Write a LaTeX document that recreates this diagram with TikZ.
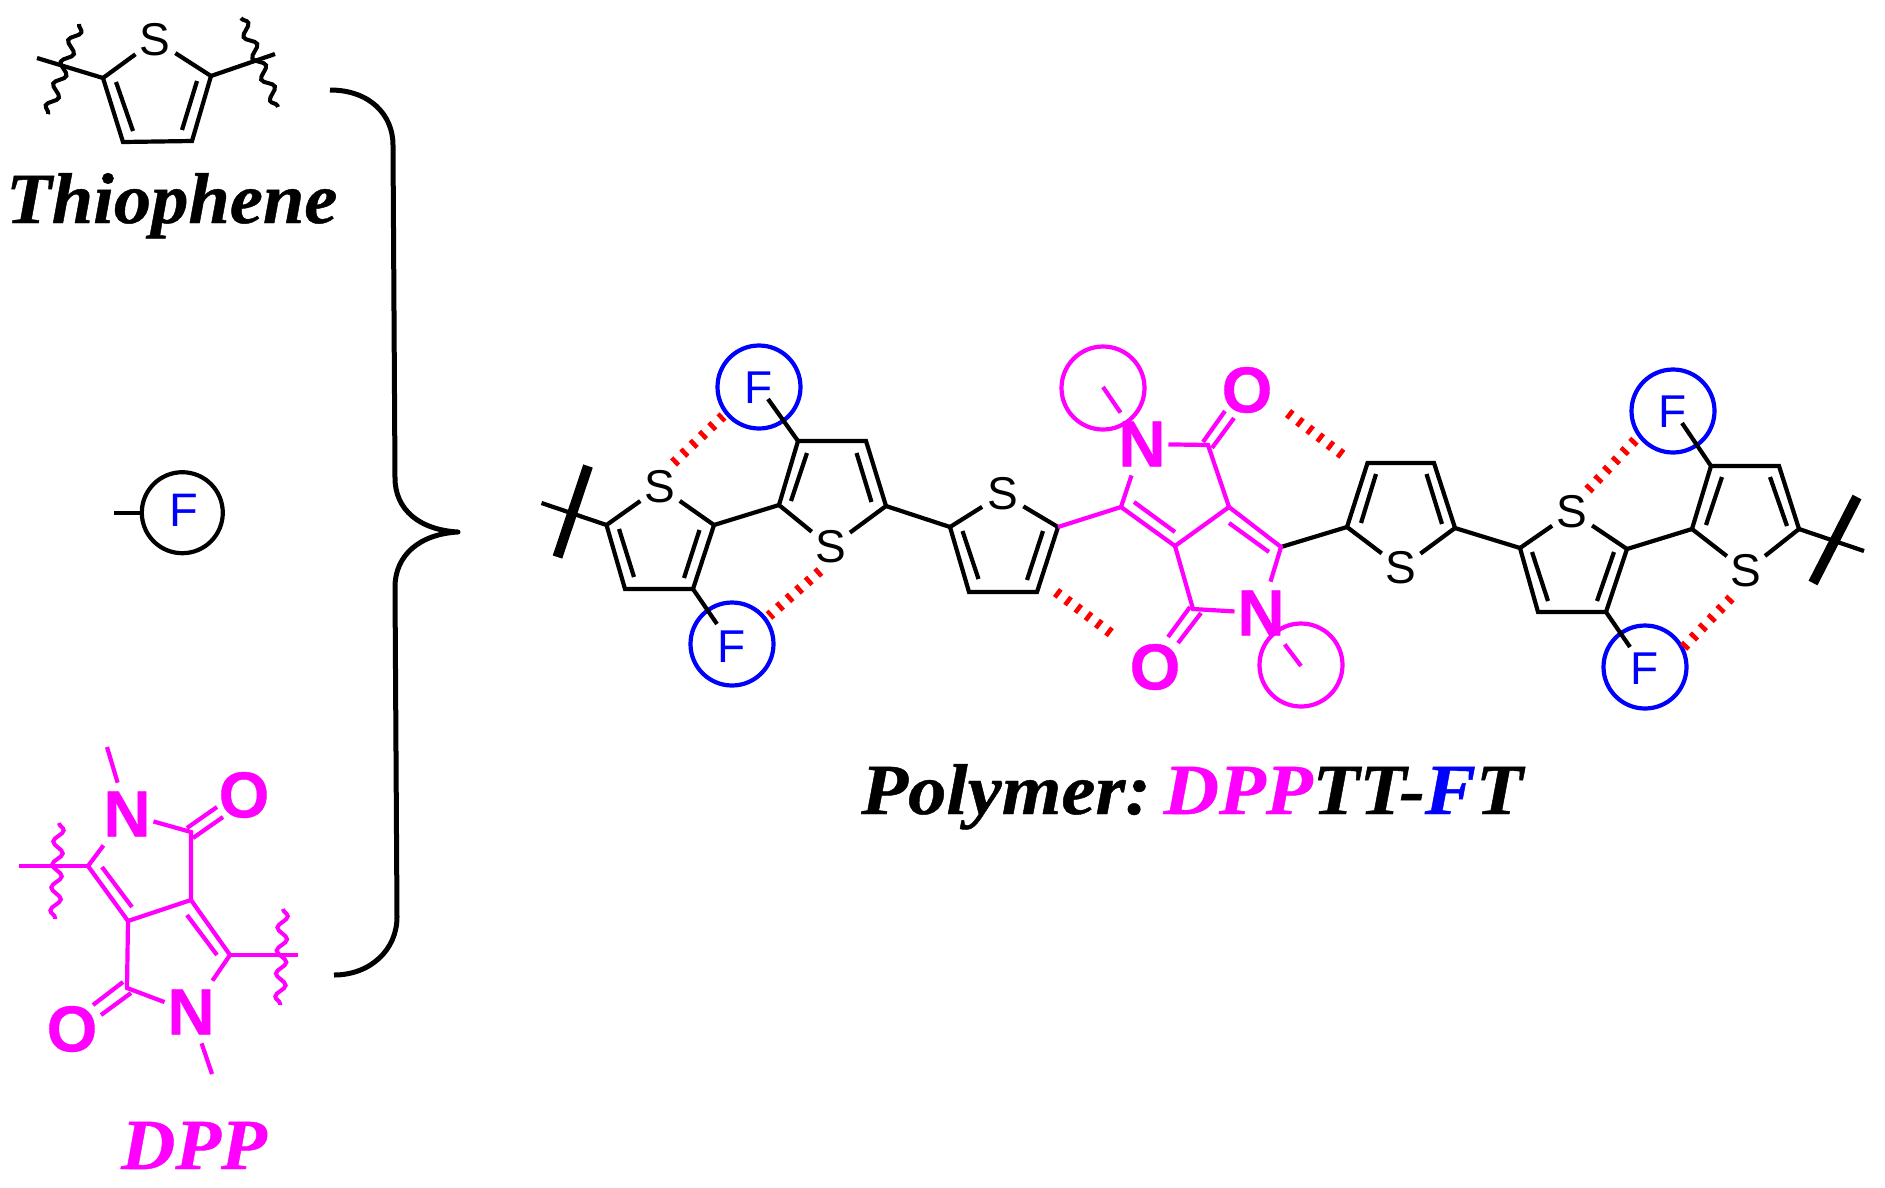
\documentclass[tikz,border=0pt]{standalone}
\usepackage{fontspec}
\setmainfont[BoldFeatures={FakeBold=0.6}]{Liberation Sans}
\newfontfamily\labelfont[BoldItalicFont={Liberation Serif Bold Italic},BoldItalicFeatures={FakeBold=0.6}]{Liberation Serif}
\usetikzlibrary{decorations.pathmorphing}
\definecolor{mag}{RGB}{255,0,255}
\definecolor{blu}{RGB}{0,0,255}
\definecolor{rd}{RGB}{255,0,0}
\tikzset{
  bondline/.style={line width=4.2pt,line cap=butt,line join=miter},
  dpp/.style={bondline,color=mag},
  wavy/.style={line width=4pt,decorate,decoration={snake,segment length=23pt,amplitude=5pt,pre length=0pt,post length=0pt}},
  hashbond/.style={color=rd,line width=10pt,dash pattern=on 4.5pt off 8.3pt},
  hetero/.style={circle,inner sep=0pt,minimum size=48pt,font=\fontsize{46}{46}\selectfont},
  ntom/.style={rectangle,inner sep=0pt,outer xsep=3pt,outer ysep=9pt,text=mag,font=\fontsize{65}{65}\selectfont\bfseries},
  otom/.style={inner sep=0pt,text=mag,font=\fontsize{65}{65}\selectfont\bfseries},
  ring/.style={circle,draw,line width=4.2pt,inner sep=0pt,minimum size=83pt},
  flabel/.style={inner sep=0pt,text=blu,font=\fontsize{46}{46}\selectfont},
  title/.style={inner sep=0pt,anchor=base west,font=\fontsize{72}{72}\selectfont\labelfont\bfseries\itshape},
  bracepath/.style={line width=5pt,line join=round}
}
\begin{document}
\begin{tikzpicture}[x=1pt,y=-1pt]
\useasboundingbox (0,0) rectangle (1885,1187);
\foreach \n/\x/\y in {
 tA/103/78,tB/211/76,tC/123/142,tD/192/141,tEa/116/82,tEb/133/131,tFa/197/81,tFb/182/130,
 tL/37/58,tR/275/54,tWa/79/24,tWb/48/114,tWc/241/18,tWd/278/107,
 bA/330/90,bB/393/145,bC/395/478,bD/458/532,bE/395/587,bF/397/917,bG/334/975,
 lF/114/513,lG/141.7/513,
 da/107/747,db/88/866,dc/191/832,dd/191/900,de/128/921,df/230/955,dg/127/988,
 dh/102/867,di/132/907,dj/187/915,dk/217/955,
 dl/187/828,dm/217/807,dn/193/838,dp/223/817,
 dq/93/1005,dr/123/982,ds/101/1015,dt/131/993,
 du/212/1074,dv/19/866,dw/298/955,dx/59/823,dy/55/919,dz/283/909,dzz/280/1005,
 a1/606.5/525,a2/714/525,a3/625/589,a4/693/589,a5/619/529,a6/634/577,a7/699.5/530,a8/684/578,
 aT/541.5/503,aBa/588/466,aBb/557.5/557,aF/717/624,
 b1/779/505,b2/886/506,b3/798/441,b4/866/441,b5/807/453,b6/791/501,b7/856.5/453,b8/871.5/502,bF2/768/399,
 c1/950/527,c2/1058/527,c3/969/592,c4/1037/592,c5/962.5/531,c6/978.5/579,c7/1043/531,c8/1027/580,
 m1/1121/507,m2/1229/507,m3/1281/547,m4/1175/546,m5/1208/445,m6/1193/609,
 m7/1134/502,m8/1175/532,m9/1229/523,m10/1269/552,
 m11/1203/442,m12/1225/411,m13/1212/448,m14/1234/418,
 m15/1190/607,m16/1168/637,m17/1201/613,m18/1178/643,
 mA/1103/387,mB/1301/666,
 d1/1347/527,d2/1455/528,d3/1367.5/463,d4/1434/463,d5/1376/474,d6/1361/523,d7/1426.5/474,d8/1442/524,
 e1/1520/548,e2/1627/549,e3/1538/612,e4/1606/612,e5/1532/552,e6/1548/601,e7/1614/552,e8/1597/601,
 f1/1692/529,f2/1799/529,f3/1711/466,f4/1779/466,f5/1722/477,f6/1706/525,f7/1770/477,f8/1787/526,
 fT/1864/551,fBa/1857/497,fBb/1813/583,fU/1682/423,fV/1630/647,
 r1a/673.5/463,r1b/723/416,r2a/820/571,r2b/769/616,r3a/1056/592,r3b/1112/634,
 r4a/1288/413,r4b/1344/456,r5a/1588/490,r5b/1637/438,r6a/1731/598,r6b/1681/650}
 {\coordinate (\n) at (\x,\y);}

% ---- thiophene
\node[hetero] (tS) at (155,40) {S};
\draw[bondline] (tS) -- (tA) -- (tC) -- (tD) -- (tB) -- (tS);
\draw[bondline] (tEa) -- (tEb) (tFa) -- (tFb) (tA) -- (tL) (tB) -- (tR);
\draw[wavy] (tWa) -- (tWb);
\draw[wavy] (tWc) -- (tWd);
\node[title,xscale=1.035] (tTitle) at (6,223) {Thiophene};

% ---- brace
\draw[bracepath] (bA) .. controls (370,90) and (393,115) .. (bB) -- (bC)
  .. controls (395,510) and (420,530) .. (bD)
  .. controls (420,534) and (395,555) .. (bE) -- (bF)
  .. controls (397,950) and (370,975) .. (bG);

% ---- free F
\node[ring,minimum size=81pt] (lR) at (182.3,512.7) {};
\node[flabel,font=\fontsize{47}{47}\selectfont] (lL) at (184,510) {F};
\draw[bondline] (lF) -- (lG);

% ---- DPP monomer
\node[ntom] (dN1) at (127,814) {N};
\node[ntom] (dN2) at (191,1012) {N};
\node[otom] (dO1) at (244,795) {O};
\node[otom] (dO2) at (72,1029) {O};
\draw[dpp] (da) -- (dN1) (dN1) -- (db) -- (de) -- (dd) -- (df) -- (dN2);
\draw[dpp] (dN1) -- (dc) -- (dd) (de) -- (dg) -- (dN2) -- (du);
\draw[dpp] (dh) -- (di) (dj) -- (dk) (dl) -- (dm) (dn) -- (dp) (dq) -- (dr) (ds) -- (dt);
\draw[dpp] (db) -- (dv) (df) -- (dw);
\draw[wavy,mag] (dx) -- (dy);
\draw[wavy,mag] (dz) -- (dzz);
\node[title,text=mag,xscale=1.04] (dTitle) at (121,1169) {DPP};

% ---- polymer: circles
\node[ring,blu] (cF1) at (759,387) {};
\node[ring,blu] (cF2) at (732,644) {};
\node[ring,mag] (cM1) at (1103,388) {};
\node[ring,mag] (cM2) at (1301,665) {};
\node[ring,blu] (cF3) at (1673,411) {};
\node[ring,blu] (cF4) at (1645,667) {};
\node[flabel] (F1) at (759,388) {F};
\node[flabel] (F2) at (732,647) {F};
\node[flabel] (F3) at (1673,412) {F};
\node[flabel] (F4) at (1645,669) {F};

% ---- polymer: rings
\node[hetero] (sA) at (660,487) {S};
\node[hetero] (sB) at (830.5,547) {S};
\node[hetero] (sC) at (1002.6,494) {S};
\node[hetero] (sD) at (1401,568) {S};
\node[hetero] (sE) at (1572,512) {S};
\node[hetero] (sF) at (1746,571) {S};

\draw[bondline] (aT) -- (a1) (sA) -- (a1) -- (a3) -- (a4) -- (a2) -- (sA);
\draw[bondline] (a5) -- (a6) (a7) -- (a8) (a2) -- (b1) (a4) -- (aF);
\draw[bondline,line width=10pt] (aBa) -- (aBb);
\draw[bondline] (sB) -- (b1) -- (b3) -- (b4) -- (b2) -- (sB);
\draw[bondline] (b5) -- (b6) (b7) -- (b8) (b3) -- (bF2) (b2) -- (c1);
\draw[bondline] (sC) -- (c1) -- (c3) -- (c4) -- (c2) -- (sC);
\draw[bondline] (c5) -- (c6) (c7) -- (c8);
\draw[bondline] (m3) -- (d1);
\draw[bondline] (sD) -- (d1) -- (d3) -- (d4) -- (d2) -- (sD);
\draw[bondline] (d5) -- (d6) (d7) -- (d8) (d2) -- (e1);
\draw[bondline] (sE) -- (e1) -- (e3) -- (e4) -- (e2) -- (sE);
\draw[bondline] (e5) -- (e6) (e7) -- (e8) (e2) -- (f1) (e4) -- (fV);
\draw[bondline] (sF) -- (f1) -- (f3) -- (f4) -- (f2) -- (sF);
\draw[bondline] (f5) -- (f6) (f7) -- (f8) (f3) -- (fU) (f2) -- (fT);
\draw[bondline,line width=10pt] (fBa) -- (fBb);

% ---- polymer: DPP core
\node[ntom] (mN1) at (1142,444) {N};
\node[ntom] (mN2) at (1261,613) {N};
\node[otom] (mO1) at (1247,390) {O};
\node[otom] (mO2) at (1155,667) {O};
\draw[dpp] (c2) -- (m1) (mN1) -- (m1) -- (m4) -- (m2) -- (m3) -- (mN2);
\draw[dpp] (mN1) -- (m5) -- (m2) (m4) -- (m6) -- (mN2);
\draw[dpp] (m7) -- (m8) (m9) -- (m10) (m11) -- (m12) (m13) -- (m14) (m15) -- (m16) (m17) -- (m18);
\draw[dpp] (mA) -- (mN1) (mN2) -- (mB);

% ---- hashed contacts
\draw[hashbond] (r1a) -- (r1b);
\draw[hashbond] (r2a) -- (r2b);
\draw[hashbond] (r3a) -- (r3b);
\draw[hashbond] (r4a) -- (r4b);
\draw[hashbond] (r5a) -- (r5b);
\draw[hashbond] (r6a) -- (r6b);

% ---- polymer title
\node[title,xscale=1.065] (pTitle) at (861,814) {Polymer:\hspace{12pt}\textcolor{mag}{DPP}TT-\textcolor{blu}{F}T};
\end{tikzpicture}
\end{document}
